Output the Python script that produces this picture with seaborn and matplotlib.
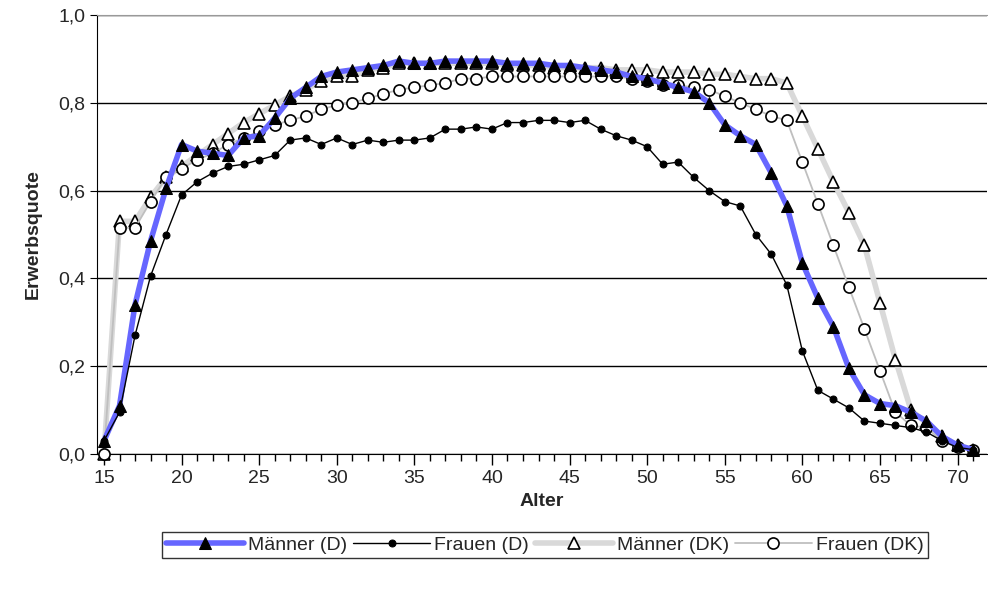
import numpy as np
import pandas as pd
import matplotlib.pyplot as plt
import seaborn as sns
from matplotlib.ticker import MultipleLocator, FuncFormatter

# Erwerbsquote nach Alter, Deutschland (D) und Dänemark (DK)
alter = list(range(15, 72))

maenner_d = [0.03, 0.11, 0.34, 0.485, 0.605, 0.705, 0.69, 0.685, 0.68, 0.72,
             0.725, 0.765, 0.81, 0.835, 0.86, 0.87, 0.875, 0.88, 0.885, 0.895,
             0.89, 0.89, 0.895, 0.895, 0.895, 0.895, 0.89, 0.89, 0.89, 0.885,
             0.885, 0.88, 0.875, 0.87, 0.86, 0.855, 0.845, 0.835, 0.825, 0.80,
             0.75, 0.725, 0.705, 0.64, 0.565, 0.435, 0.355, 0.29, 0.195, 0.135,
             0.115, 0.11, 0.095, 0.075, 0.04, 0.02, 0.01]
frauen_d = [0.03, 0.095, 0.27, 0.405, 0.50, 0.59, 0.62, 0.64, 0.655, 0.66,
            0.67, 0.68, 0.715, 0.72, 0.705, 0.72, 0.705, 0.715, 0.71, 0.715,
            0.715, 0.72, 0.74, 0.74, 0.745, 0.74, 0.755, 0.755, 0.76, 0.76,
            0.755, 0.76, 0.74, 0.725, 0.715, 0.70, 0.66, 0.665, 0.63, 0.60,
            0.575, 0.565, 0.50, 0.455, 0.385, 0.235, 0.145, 0.125, 0.105, 0.075,
            0.07, 0.065, 0.06, 0.05, 0.03, 0.015, 0.01]
maenner_dk = [0.0, 0.53, 0.53, 0.585, 0.63, 0.655, 0.68, 0.705, 0.73, 0.755,
              0.775, 0.795, 0.815, 0.83, 0.85, 0.86, 0.86, 0.875, 0.88, 0.89,
              0.89, 0.89, 0.89, 0.89, 0.89, 0.89, 0.885, 0.885, 0.885, 0.88,
              0.88, 0.88, 0.88, 0.875, 0.875, 0.875, 0.87, 0.87, 0.87, 0.865,
              0.865, 0.86, 0.855, 0.855, 0.845, 0.77, 0.695, 0.62, 0.55, 0.475,
              0.345, 0.215, 0.10, 0.07, 0.04, 0.02, 0.01]
frauen_dk = [0.0, 0.515, 0.515, 0.575, 0.63, 0.65, 0.67, 0.685, 0.705, 0.72,
             0.735, 0.75, 0.76, 0.77, 0.785, 0.795, 0.80, 0.81, 0.82, 0.83,
             0.835, 0.84, 0.845, 0.855, 0.855, 0.86, 0.86, 0.86, 0.86, 0.86,
             0.86, 0.86, 0.86, 0.86, 0.855, 0.85, 0.84, 0.84, 0.835, 0.83,
             0.815, 0.80, 0.785, 0.77, 0.76, 0.665, 0.57, 0.475, 0.38, 0.285,
             0.19, 0.095, 0.065, 0.06, 0.03, 0.015, 0.01]

df = pd.DataFrame({'Alter': alter, 'Männer (D)': maenner_d, 'Frauen (D)': frauen_d,
                   'Männer (DK)': maenner_dk, 'Frauen (DK)': frauen_dk})

sns.set_style('white')
plt.rcParams['font.family'] = ['Liberation Sans', 'DejaVu Sans']

fig = plt.figure(figsize=(9.88, 5.90), dpi=100)
ax = fig.add_axes([97/988, 1 - 454/590, (987-97)/988, (454-15)/590])

sns.lineplot(data=df, x='Alter', y='Männer (DK)', ax=ax, color='#d9d9d9', lw=4,
             marker='^', markersize=8, markerfacecolor='white', markeredgecolor='black',
             markeredgewidth=1.2, label='Männer (DK)', zorder=3, clip_on=False)
sns.lineplot(data=df, x='Alter', y='Frauen (DK)', ax=ax, color='#bfbfbf', lw=1.3,
             marker='o', markersize=8, markerfacecolor='white', markeredgecolor='black',
             markeredgewidth=1.2, label='Frauen (DK)', zorder=3, clip_on=False)
sns.lineplot(data=df, x='Alter', y='Männer (D)', ax=ax, color='#6666ff', lw=4,
             marker='^', markersize=8, markerfacecolor='black', markeredgecolor='black',
             label='Männer (D)', zorder=4, clip_on=False)
sns.lineplot(data=df, x='Alter', y='Frauen (D)', ax=ax, color='black', lw=1,
             marker='o', markersize=5, markerfacecolor='black', markeredgecolor='black',
             label='Frauen (D)', zorder=4, clip_on=False)

ax.set_xlim(14.55, 71.9)
ax.set_ylim(0, 1.0)
ax.xaxis.set_major_locator(MultipleLocator(5))
ax.xaxis.set_minor_locator(MultipleLocator(1))
ax.yaxis.set_major_locator(MultipleLocator(0.2))
ax.yaxis.set_major_formatter(FuncFormatter(lambda v, p: f'{v:.1f}'.replace('.', ',')))
ax.grid(axis='y', color='black', lw=1)
ax.set_axisbelow(True)
ax.spines['right'].set_visible(False)
ax.spines['top'].set_color('#999999')
ax.spines['left'].set_color('black')
ax.spines['bottom'].set_color('black')
ax.tick_params(axis='both', which='both', direction='out', color='black', labelsize=14)
ax.tick_params(axis='x', which='major', length=8, width=1, bottom=True)
ax.tick_params(axis='x', which='minor', length=5, width=1, bottom=True)
ax.tick_params(axis='y', length=5, left=True)
ax.set_xlabel('Alter', fontsize=14, fontweight='bold')
ax.set_ylabel('Erwerbsquote', fontsize=14, fontweight='bold', labelpad=12)

h, l = ax.get_legend_handles_labels()
order = [l.index(n) for n in ['Männer (D)', 'Frauen (D)', 'Männer (DK)', 'Frauen (DK)']]
leg = ax.legend([h[i] for i in order], [l[i] for i in order], loc='center',
                bbox_to_anchor=(545/988, 1 - 545/590), bbox_transform=fig.transFigure,
                ncol=4, frameon=True, fancybox=False, edgecolor='black', fontsize=14,
                handlelength=4, columnspacing=0.3, handletextpad=0.2, borderpad=0.2)
leg.get_frame().set_linewidth(1)

fig.savefig('out.png', dpi=100)
